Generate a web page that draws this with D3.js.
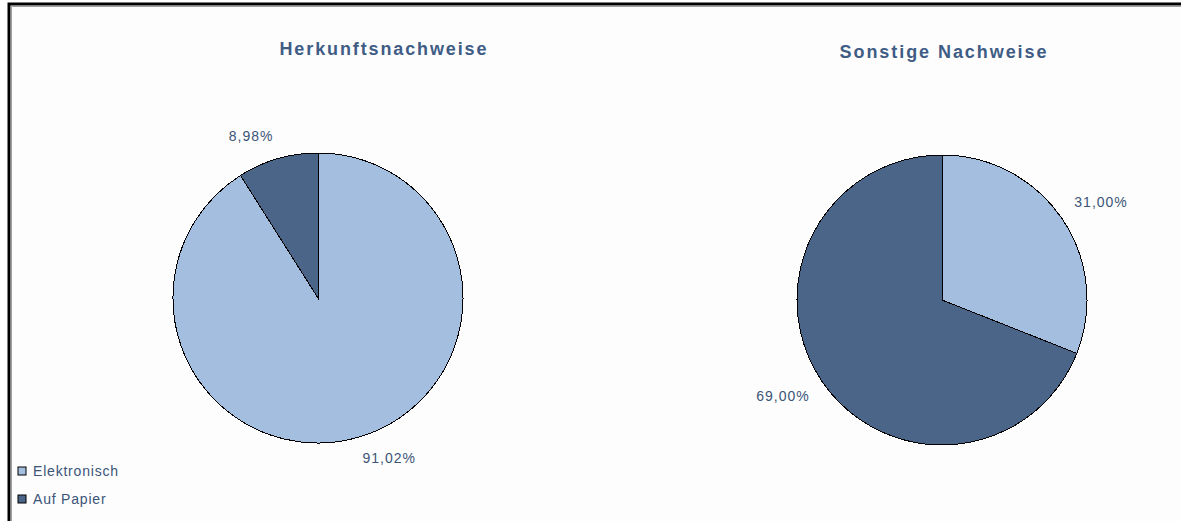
<!DOCTYPE html>
<html>
<head>
<meta charset="utf-8">
<script src="https://cdn.jsdelivr.net/npm/d3@7"></script>
<style>
  html, body { margin: 0; padding: 0; background: #ffffff; overflow: hidden; }
  svg { display: block; }
</style>
</head>
<body>
<script>
// Anteile elektronischer und papierbasierter Nachweise
const categories = ["Elektronisch", "Auf Papier"];
const chartTitles = ["Herkunftsnachweise", "Sonstige Nachweise"];
const herkunftValues = [91.02, 8.98];
const sonstigeValues = [31.00, 69.00];
const colors = ["#a3bedf", "#4a6588"];

const W = 1181, H = 521;
const svg = d3.select("body").append("svg").attr("width", W).attr("height", H);

// Rahmen des Diagrammbereichs (rechts und unten abgeschnitten)
svg.append("rect").attr("x", 0).attr("y", 0).attr("width", W).attr("height", H).attr("fill", "#ffffff");
svg.append("path").attr("d", `M9,${H + 5}V4H${W + 5}`)
  .attr("fill", "none").attr("stroke", "#000").attr("stroke-width", 3);
svg.append("rect").attr("x", 11).attr("y", 6).attr("width", W).attr("height", H).attr("fill", "#fdfdfd");
svg.append("path").attr("d", `M11.5,${H}V6.5H${W}`).attr("fill", "none").attr("stroke", "#a0a0a0").attr("stroke-width", 1);

const fmt = v => d3.format(".2f")(v).replace(".", ",") + "%";
const textColor = "#3b5478";

const pies = [
  { title: chartTitles[0], values: herkunftValues, cx: 318, cy: 298, titleX: 383, titleY: 49 },
  { title: chartTitles[1], values: sonstigeValues, cx: 942, cy: 300, titleX: 943, titleY: 52 }
];

const r = 145;
const pie = d3.pie().sort(null).value(d => d);
const arc = d3.arc().innerRadius(0).outerRadius(r);
const labelArc = d3.arc().innerRadius(160).outerRadius(160);

pies.forEach(p => {
  svg.append("text")
    .attr("x", p.titleX).attr("y", p.titleY)
    .attr("text-anchor", "middle").attr("dominant-baseline", "central")
    .attr("font-family", "Liberation Sans, Arial, sans-serif")
    .attr("font-weight", "bold").attr("font-size", 18)
    .attr("fill", "#3f5c85")
    .attr("textLength", 207).attr("lengthAdjust", "spacing")
    .text(p.title);

  const g = svg.append("g").attr("transform", `translate(${p.cx},${p.cy})`);
  const arcs = pie(p.values);

  g.selectAll("path").data(arcs).enter().append("path")
    .attr("d", arc)
    .attr("fill", (d, i) => colors[i])
    .attr("stroke", "#000").attr("stroke-width", 1)
    .attr("shape-rendering", "crispEdges");

  g.selectAll("text.lbl").data(arcs).enter().append("text")
    .attr("class", "lbl")
    .each(function(d) {
      const [x, y] = labelArc.centroid(d);
      const right = x >= 0, below = y >= 0;
      d3.select(this)
        .attr("x", x)
        .attr("y", below ? y + 11 : y - 3)
        .attr("text-anchor", right ? "start" : "end");
    })
    .attr("font-family", "Liberation Sans, Arial, sans-serif")
    .attr("font-size", 14)
    .attr("letter-spacing", 1)
    .attr("fill", textColor)
    .text(d => fmt(d.data));
});

// Legende
const legend = svg.append("g");
categories.forEach((c, i) => {
  const y = 471 + i * 28;
  legend.append("rect")
    .attr("x", 18).attr("y", y - 4).attr("width", 8).attr("height", 8)
    .attr("fill", colors[i]).attr("stroke", "#000").attr("stroke-width", 1);
  legend.append("text")
    .attr("x", 33).attr("y", y).attr("dominant-baseline", "central")
    .attr("font-family", "Liberation Sans, Arial, sans-serif")
    .attr("font-size", 14).attr("letter-spacing", 0.8)
    .attr("fill", textColor)
    .text(c);
});
</script>
</body>
</html>
